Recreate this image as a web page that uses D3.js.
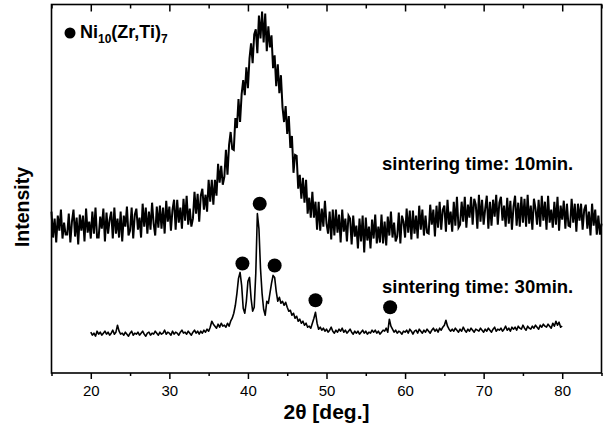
<!DOCTYPE html>
<html>
<head>
<meta charset="utf-8">
<script src="https://cdn.jsdelivr.net/npm/d3@7/dist/d3.min.js"></script>
<style>
  body { margin: 0; background: #fff; }
  svg { display: block; font-family: "Liberation Sans", Arial, sans-serif; }
</style>
</head>
<body>
<div id="chart"></div>
<script>
// 2theta grid of each scan (deg.), step 0.2
var start10 = 15, start30 = 20, step = 0.2;

// sintering time 10 min (arbitrary intensity units), 15 -> 85 deg.
var scan10 = [
  162,136,155,131,158,143,164,135,151,139,
  139,160,131,152,164,137,156,129,159,143,
  158,132,165,141,152,135,162,140,166,136,
  136,157,145,165,132,161,140,154,162,135,
  166,140,155,136,162,132,158,147,167,138,
  143,166,135,159,165,144,156,136,170,147,
  166,140,162,144,171,150,138,167,146,168,
  145,166,140,173,152,167,143,164,174,144,
  174,151,166,145,175,153,178,149,165,147,
  155,182,160,180,152,178,185,164,179,162,
  194,172,194,169,194,178,210,191,208,189,
  197,224,199,229,242,225,224,256,246,275,
  252,280,294,279,307,286,316,331,311,340,
  345,321,359,336,363,332,361,323,348,327,
  339,306,319,288,310,281,299,267,252,268,
  240,258,226,238,201,219,218,185,199,175,
  196,171,194,160,176,156,182,156,172,144,
  172,143,165,147,173,150,140,162,134,164,
  138,164,141,159,131,164,142,155,132,158,
  155,129,158,137,148,125,155,132,158,121,
  156,133,147,125,154,135,159,130,147,131,
  159,130,152,128,157,138,162,136,151,132,
  137,161,130,158,152,136,165,141,163,134,
  163,140,158,135,168,144,164,138,158,141,
  140,169,149,164,137,168,146,172,144,164,
  168,142,174,149,162,142,172,148,177,146,
  149,172,152,177,146,169,156,177,149,175,
  169,145,179,152,174,149,165,178,145,172,
  148,174,157,179,149,171,177,153,168,147,
  176,150,173,144,167,178,148,171,147,177,
  151,175,147,179,150,168,144,175,165,149,
  174,147,178,153,172,144,178,151,164,146,
  172,149,177,143,168,154,173,145,170,148,
  147,175,151,170,142,170,153,170,144,164,
  169,145,162,138,170,148,164,139,158,139,
  150
];

// sintering time 30 min, 20 -> 80 deg.
var scan30 = [
  41,38,40,37,42,39,41,38,40,42,
  39,41,38,40,43,39,41,48,42,39,
  40,38,41,39,37,40,42,38,40,39,
  41,38,40,42,39,37,40,41,38,40,
  39,42,40,38,41,39,40,43,39,41,
  40,38,42,39,41,40,38,41,43,40,
  41,39,42,40,38,41,43,40,42,39,
  42,40,43,41,44,42,46,52,49,47,
  45,49,46,50,47,48,46,50,47,52,
  55,60,68,80,95,101,88,65,60,72,
  92,96,75,62,66,100,160,145,105,80,
  64,58,72,70,80,90,98,96,82,72,
  76,70,72,68,71,66,62,63,58,60,
  55,57,52,54,50,52,48,50,46,47,
  45,50,55,61,50,44,46,43,45,42,
  44,41,43,46,42,40,43,41,44,42,
  45,41,43,40,42,44,41,39,42,40,
  42,39,41,43,40,42,39,41,40,43,
  41,43,40,42,39,41,43,42,45,41,
  54,47,44,41,43,40,42,41,39,42,
  41,43,40,44,42,39,42,43,40,44,
  42,40,43,41,44,42,40,43,45,42,
  44,41,45,43,46,48,53,47,44,42,
  44,42,45,43,41,44,42,46,43,41,
  44,42,45,43,41,44,43,42,45,43,
  41,44,42,45,43,41,44,46,42,44,
  43,45,42,44,47,43,45,42,46,44,
  46,43,47,45,44,48,45,43,47,45,
  44,47,45,48,46,44,48,46,49,47,
  46,49,47,45,50,47,52,48,51,46,
  47
];

// Ni10(Zr,Ti)7 reflections marked on the 30 min scan
var markAngles = [39.3, 41.5, 43.4, 48.6, 58.1];
var markLevels = [110, 170, 108, 73, 66];

var majorTicks = [20, 30, 40, 50, 60, 70, 80];
var minorTicks = [15, 25, 35, 45, 55, 65, 75, 85];

var width = 608, height = 430;
var margin = {top: 4.5, right: 6.5, bottom: 57, left: 51.5};

var svg = d3.select("#chart").append("svg")
    .attr("width", width)
    .attr("height", height);

var x = d3.scaleLinear().domain([15, 85]).range([margin.left, width - margin.right]);
var y = d3.scaleLinear().domain([0, 370]).range([height - margin.bottom, margin.top]);

var line = d3.line()
    .x(function (d) { return x(d[0]); })
    .y(function (d) { return y(d[1]); });

var pts10 = scan10.map(function (v, i) { return [start10 + i * step, v]; });
var pts30 = scan30.map(function (v, i) { return [start30 + i * step, v]; });

svg.append("path")
    .datum(pts10)
    .attr("d", line)
    .attr("fill", "none")
    .attr("stroke", "#000")
    .attr("stroke-width", 2);

svg.append("path")
    .datum(pts30)
    .attr("d", line)
    .attr("fill", "none")
    .attr("stroke", "#000")
    .attr("stroke-width", 1.6)
    .attr("stroke-linejoin", "round");

svg.selectAll(".mark")
    .data(markAngles)
    .enter()
    .append("circle")
    .attr("class", "mark")
    .attr("cx", function (d) { return x(d); })
    .attr("cy", function (d, i) { return y(markLevels[i]); })
    .attr("r", 7)
    .attr("fill", "#000");

// frame
svg.append("rect")
    .attr("x", x(15))
    .attr("y", y(370))
    .attr("width", x(85) - x(15))
    .attr("height", y(0) - y(370))
    .attr("fill", "none")
    .attr("stroke", "#000")
    .attr("stroke-width", 1.6);

// bottom axis, outward ticks
var bottomAxis = svg.append("g").attr("transform", "translate(0," + y(0) + ")");
bottomAxis.call(d3.axisBottom(x).tickValues(majorTicks).tickSize(6).tickFormat(d3.format("d")));
bottomAxis.append("g").call(d3.axisBottom(x).tickValues(minorTicks).tickSize(3).tickFormat(""));
bottomAxis.selectAll(".domain").remove();
bottomAxis.selectAll("line").attr("stroke", "#000").attr("stroke-width", 1.5);
bottomAxis.selectAll("text")
    .attr("font-family", "Liberation Sans, Arial, sans-serif")
    .attr("font-size", 15)
    .attr("fill", "#000")
    .attr("dy", "0.95em");

// top mirror axis, inward ticks
var topAxis = svg.append("g").attr("transform", "translate(0," + y(370) + ")");
topAxis.call(d3.axisBottom(x).tickValues(majorTicks).tickSize(7).tickFormat(""));
topAxis.append("g").call(d3.axisBottom(x).tickValues(minorTicks).tickSize(4).tickFormat(""));
topAxis.selectAll(".domain").remove();
topAxis.selectAll("line").attr("stroke", "#000").attr("stroke-width", 1.5);

svg.append("text")
    .attr("x", (x(15) + x(85)) / 2)
    .attr("y", 419)
    .attr("text-anchor", "middle")
    .attr("font-size", 21)
    .attr("font-weight", "bold")
    .text("2θ [deg.]");

svg.append("text")
    .attr("transform", "translate(29,207) rotate(-90)")
    .attr("text-anchor", "middle")
    .attr("font-size", 19.5)
    .attr("font-weight", "bold")
    .text("Intensity");

// legend
svg.append("circle").attr("cx", 70).attr("cy", 33).attr("r", 5.5).attr("fill", "#000");
var leg = svg.append("text")
    .attr("x", 80)
    .attr("y", 38)
    .attr("font-size", 18)
    .attr("font-weight", "bold");
leg.append("tspan").text("Ni");
leg.append("tspan").attr("font-size", 12).attr("dy", 5).text("10");
leg.append("tspan").attr("dy", -5).text("(Zr,Ti)");
leg.append("tspan").attr("font-size", 12).attr("dy", 5).text("7");

svg.append("text")
    .attr("x", 382)
    .attr("y", 170)
    .attr("font-size", 18.5)
    .attr("font-weight", "bold")
    .text("sintering time: 10min.");

svg.append("text")
    .attr("x", 382)
    .attr("y", 293)
    .attr("font-size", 18.5)
    .attr("font-weight", "bold")
    .text("sintering time: 30min.");
</script>
</body>
</html>
